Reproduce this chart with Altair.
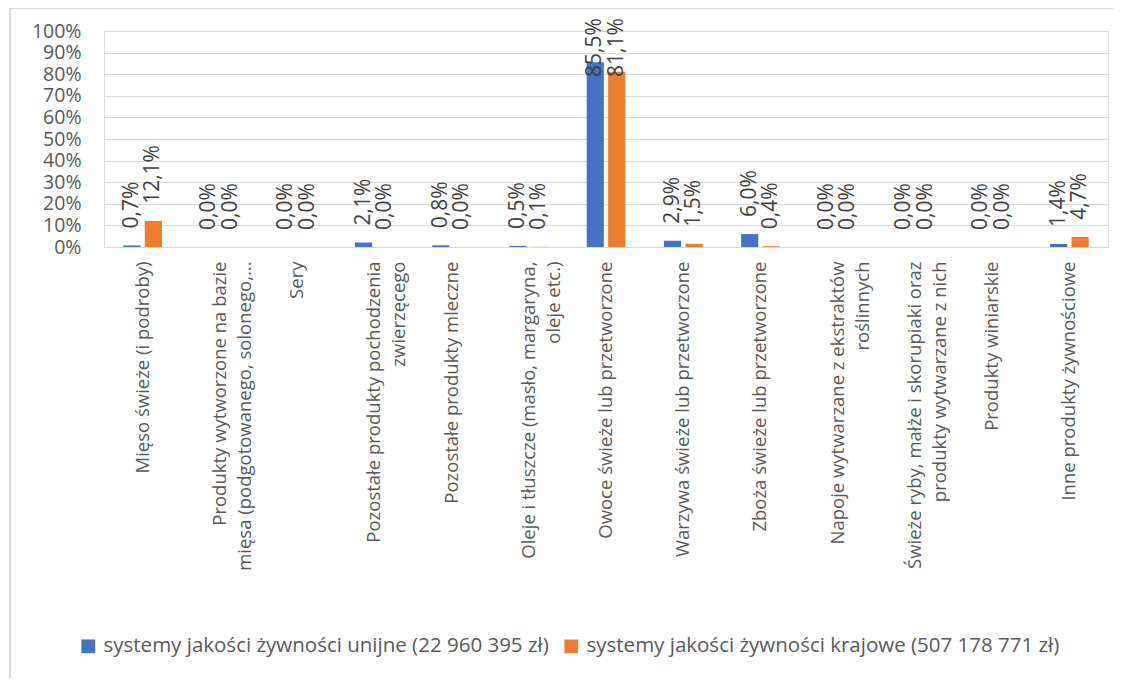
import altair as alt
import pandas as pd

categories = [
    "Mięso świeże (i podroby)",
    "Produkty wytworzone na bazie|mięsa (podgotowanego, solonego,...",
    "Sery",
    "Pozostałe produkty pochodzenia|zwierzęcego",
    "Pozostałe produkty mleczne",
    "Oleje i tłuszcze (masło, margaryna,|oleje etc.)",
    "Owoce świeże lub przetworzone",
    "Warzywa świeże lub przetworzone",
    "Zboża świeże lub przetworzone",
    "Napoje wytwarzane z ekstraktów|roślinnych",
    "Świeże ryby, małże i skorupiaki oraz|produkty wytwarzane z nich",
    "Produkty winiarskie",
    "Inne produkty żywnościowe",
]
series_names = [
    "systemy jakości żywności unijne (22 960 395 zł)",
    "systemy jakości żywności krajowe (507 178 771 zł)",
]
unijne = [0.7, 0.0, 0.0, 2.1, 0.8, 0.5, 85.5, 2.9, 6.0, 0.0, 0.0, 0.0, 1.4]
krajowe = [12.1, 0.0, 0.0, 0.0, 0.0, 0.1, 81.1, 1.5, 0.4, 0.0, 0.0, 0.0, 4.7]
colors = ["#4472C4", "#ED7D31"]
y_ticks = [0, 0.1, 0.2, 0.3, 0.4, 0.5, 0.6, 0.7, 0.8, 0.9, 1.0]

rows = []
for i, c in enumerate(categories):
    rows.append({"cat": c, "series": series_names[0], "v": unijne[i] / 100})
    rows.append({"cat": c, "series": series_names[1], "v": krajowe[i] / 100})
df = pd.DataFrame(rows)

FONT = "Open Sans"

x_enc = alt.X(
    "cat:N",
    sort=categories,
    title=None,
    scale=alt.Scale(paddingInner=0.5, paddingOuter=0.25),
    axis=alt.Axis(
        labelAngle=270,
        labelAlign="right",
        labelBaseline="middle",
        labelExpr="split(datum.label, '|')",
        labelLineHeight=25,
        labelFontSize=18.5,
        labelFont=FONT,
        labelColor="#595959",
        labelPadding=14,
        labelLimit=400,
        labelOverlap=False,
        ticks=False,
        domain=True,
        domainColor="#d9d9d9",
        grid=False,
    ),
)
y_enc = alt.Y(
    "v:Q",
    title=None,
    scale=alt.Scale(domain=[0, 1], nice=False),
    axis=alt.Axis(
        values=y_ticks,
        tickCount=11,
        format=".0%",
        labelFontSize=19.5,
        labelFont=FONT,
        labelColor="#595959",
        labelPadding=23,
        labelOverlap=False,
        labelBound=False,
        ticks=False,
        domain=False,
        grid=True,
        gridColor="#d9d9d9",
        gridWidth=1,
    ),
)
xoff = alt.XOffset("series:N", sort=series_names, scale=alt.Scale(paddingInner=0.2, paddingOuter=0))

bars = alt.Chart(df).mark_bar().encode(
    x=x_enc,
    y=y_enc,
    xOffset=xoff,
    color=alt.Color(
        "series:N",
        sort=series_names,
        scale=alt.Scale(domain=series_names, range=colors),
        legend=alt.Legend(
            title=None,
            orient="none",
            direction="horizontal",
            legendX=-26,
            legendY=605,
            symbolType="square",
            symbolSize=190,
            symbolStrokeWidth=0,
            labelFontSize=20.5,
            labelFont=FONT,
            labelColor="#595959",
            labelOffset=5,
            columnPadding=12,
            labelLimit=600,
            padding=0,
        ),
    ),
)

labels = (
    alt.Chart(df)
    .transform_calculate(
        txt="replace(format(datum.v, '.1%'), '.', ',')",
        lp="min(datum.v, 0.708)",
    )
    .mark_text(
        angle=270,
        align="left",
        baseline="middle",
        dx=17,
        fontSize=21,
        font=FONT,
        color="#404040",
    )
    .encode(
        x=alt.X("cat:N", sort=categories),
        xOffset=xoff,
        y=alt.Y("lp:Q"),
        text="txt:N",
    )
)

border_top = alt.Chart(df).mark_rule(color="#d9d9d9", strokeWidth=1.5).encode(
    x=alt.value(-94), x2=alt.value(1020), y=alt.value(-23)
)
border_left = alt.Chart(df).mark_rule(color="#d9d9d9", strokeWidth=1.5).encode(
    x=alt.value(-94), y=alt.value(-23), y2=alt.value(660)
)

chart = (
    alt.layer(bars, labels, border_top, border_left)
    .properties(
        width=1004,
        height=216,
        autosize=alt.AutoSizeParams(type="none"),
        padding={"left": 96, "top": 23, "right": 5, "bottom": 431},
    )
    .configure_view(stroke=None)
    .configure(background="white")
)

chart.save("out.html", embed_options={"renderer": "svg", "actions": False})
